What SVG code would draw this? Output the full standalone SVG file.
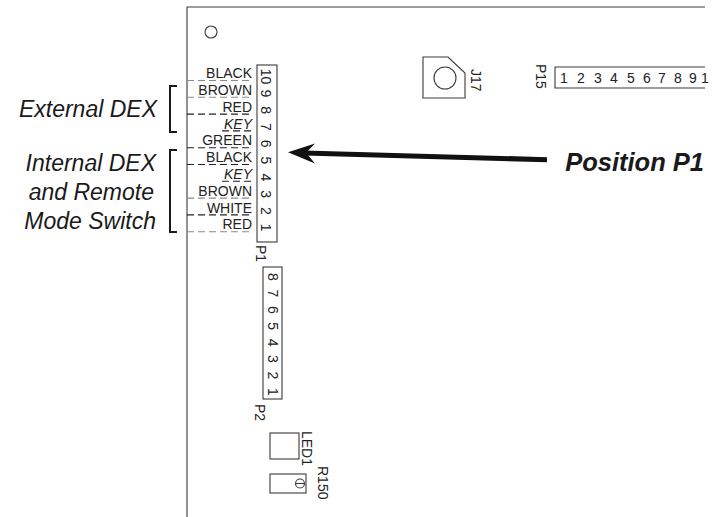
<svg xmlns="http://www.w3.org/2000/svg" width="723" height="517" viewBox="0 0 723 517">
<style>
.ol{fill:none;stroke:#3a3a3a;stroke-width:1.1}
.lbl{font-family:"Liberation Sans",Arial,sans-serif;font-size:14px;fill:#222}
.it{font-style:italic}
.pin{font-family:"Liberation Sans",Arial,sans-serif;font-size:14px;fill:#222;text-anchor:middle}
.big{font-family:"Liberation Sans",Arial,sans-serif;font-style:italic;font-size:23px;fill:#1a1a1a}
.wg{fill:none;stroke:#8a8a8a;stroke-width:1.1;stroke-dasharray:7 4}
.wb{fill:none;stroke:#222;stroke-width:1.1;stroke-dasharray:7 4}
.br{fill:none;stroke:#1a1a1a;stroke-width:2}
</style>
<g id="board">
<path class="ol" d="M187,517 V7 H705"/>
<circle class="ol" cx="211" cy="32" r="6"/>
</g>
<g id="J17">
<polygon class="ol" points="423,57 448,57 465,73 465,98 423,98"/>
<circle class="ol" cx="445" cy="78" r="11"/>
<text class="lbl" transform="translate(471,69) rotate(90)">J17</text>
</g>
<g id="P15">
<text class="lbl" transform="translate(536,64) rotate(90)">P15</text>
<path class="ol" d="M705,67 H555 V88 H705"/>
<text class="lbl" font-size="13.5" y="83" x="560 577 594 610 627 643 658 674 689 701">1234567891</text>
</g>
<g id="P1">
<rect class="ol" x="257" y="65" width="20" height="177"/>
<g>
<text class="pin" transform="translate(260.5,76.5) rotate(90)">10</text>
<text class="pin" transform="translate(260.5,93.3) rotate(90)">9</text>
<text class="pin" transform="translate(260.5,110.1) rotate(90)">8</text>
<text class="pin" transform="translate(260.5,126.9) rotate(90)">7</text>
<text class="pin" transform="translate(260.5,143.7) rotate(90)">6</text>
<text class="pin" transform="translate(260.5,160.5) rotate(90)">5</text>
<text class="pin" transform="translate(260.5,177.3) rotate(90)">4</text>
<text class="pin" transform="translate(260.5,194.1) rotate(90)">3</text>
<text class="pin" transform="translate(260.5,210.9) rotate(90)">2</text>
<text class="pin" transform="translate(260.5,227.7) rotate(90)">1</text>
</g>
<text class="lbl" transform="translate(256,245) rotate(90)">P1</text>
</g>
<g id="wires">
<path class="wg" d="M187,80.5 H252"/>
<path class="wg" d="M187,97.3 H252"/>
<path class="wb" d="M187,114.1 H252"/>
<path class="wb" d="M222,130.9 H252"/>
<path class="wb" d="M187,147.7 H252"/>
<path class="wb" d="M187,164.5 H252"/>
<path class="wb" d="M222,181.3 H252"/>
<path class="wg" d="M187,198.1 H252"/>
<path class="wb" d="M187,214.9 H252"/>
<path class="wg" d="M187,231.7 H252"/>
</g>
<g id="wire-labels" text-anchor="end">
<text class="lbl" x="252" y="78">BLACK</text>
<text class="lbl" x="252" y="95">BROWN</text>
<text class="lbl" x="252" y="111.5">RED</text>
<text class="lbl it" x="252" y="128.5">KEY</text>
<text class="lbl" x="252" y="145">GREEN</text>
<text class="lbl" x="252" y="162">BLACK</text>
<text class="lbl it" x="252" y="179">KEY</text>
<text class="lbl" x="252" y="195.5">BROWN</text>
<text class="lbl" x="252" y="212.5">WHITE</text>
<text class="lbl" x="252" y="229">RED</text>
</g>
<g id="ext-dex">
<path class="br" d="M177,86 H170 V132 H177"/>
<text class="big" x="157" y="117" text-anchor="end">External DEX</text>
</g>
<g id="int-dex">
<path class="br" d="M177,150 H170 V232 H177"/>
<text class="big" x="156" y="171" text-anchor="end">Internal DEX</text>
<text class="big" x="154" y="200" text-anchor="end">and Remote</text>
<text class="big" x="156" y="229" text-anchor="end">Mode Switch</text>
</g>
<g id="P2">
<rect class="ol" x="263" y="267" width="19" height="132"/>
<text class="pin" transform="translate(267.5,277) rotate(90)">8</text>
<text class="pin" transform="translate(267.5,293.4) rotate(90)">7</text>
<text class="pin" transform="translate(267.5,309.8) rotate(90)">6</text>
<text class="pin" transform="translate(267.5,326.2) rotate(90)">5</text>
<text class="pin" transform="translate(267.5,342.6) rotate(90)">4</text>
<text class="pin" transform="translate(267.5,359) rotate(90)">3</text>
<text class="pin" transform="translate(267.5,375.4) rotate(90)">2</text>
<text class="pin" transform="translate(267.5,391.8) rotate(90)">1</text>
<text class="lbl" transform="translate(255,404) rotate(90)">P2</text>
</g>
<g id="LED1">
<rect class="ol" x="270" y="433" width="29" height="26"/>
<text class="lbl" font-size="13.5" transform="translate(302,431) rotate(90)">LED1</text>
</g>
<g id="R150">
<rect class="ol" x="270" y="474" width="36" height="19"/>
<circle class="ol" cx="300" cy="483.5" r="4.5"/>
<path class="ol" d="M295.5,483.5 H304.5"/>
<text class="lbl" transform="translate(318,466) rotate(90)">R150</text>
</g>
<g id="connectors">
<path d="M547,159.7 L304,153" fill="none" stroke="#111" stroke-width="5"/>
<polygon points="288,152.3 315,143.5 306,152.8 315,163.5" fill="#111"/>
</g>
<g id="callout">
<text x="704" y="171" text-anchor="end" font-family="'Liberation Sans',Arial,sans-serif" font-style="italic" font-weight="bold" font-size="25.5" fill="#1a1a1a">Position P1</text>
</g>
</svg>
